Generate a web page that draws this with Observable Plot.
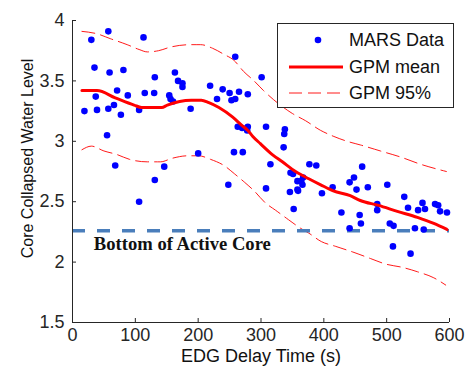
<!DOCTYPE html>
<html>
<head>
<meta charset="utf-8">
<script src="https://cdn.jsdelivr.net/npm/d3@7"></script>
<script src="https://cdn.jsdelivr.net/npm/@observablehq/plot@0.6"></script>
<style>
  body { margin: 0; background: #fff; }
  #wrap { position: relative; width: 468px; height: 369px; font-family: "Liberation Sans", Arial, sans-serif; }
  #legend { position: absolute; left: 277px; top: 23px; width: 177px; height: 85px; box-sizing: border-box;
            border: 1px solid #262626; background: #fff; }
  .row { position: absolute; left: 0; height: 26px; width: 100%; }
  .row svg { position: absolute; left: 10px; top: 0; }
  .row span { position: absolute; left: 71px; top: 2px; font-size: 18px; color: #111; line-height: 22px; white-space: nowrap; }
</style>
</head>
<body>
<div id="wrap"></div>
<script>
// ---- data ----
const marsTime = [57,30,113,35,59,81,131,163,168,175,175,71,88,115,130,154,156,160,37,19,39,57,66,77,106,188,55,
  259,301,219,239,250,265,279,230,253,259,263,270,278,279,308,338,337,336,
  68,131,146,106,200,257,271,315,248,308,347,351,367,358,364,366,377,388,346,358,359,397,352,
  461,414,441,448,452,470,501,428,457,459,485,485,528,534,550,557,561,577,582,585,596,505,511,545,559,441,510,538];
const marsLevel = [3.91,3.84,3.86,3.61,3.57,3.59,3.53,3.57,3.50,3.48,3.45,3.42,3.38,3.40,3.40,3.38,3.35,3.33,3.37,3.25,3.26,3.27,3.30,3.22,3.26,3.27,3.05,
  3.70,3.53,3.46,3.43,3.40,3.41,3.39,3.35,3.34,3.35,3.12,3.11,3.09,3.12,3.12,3.10,3.06,2.95,
  2.80,2.68,2.79,2.50,2.90,2.91,2.91,2.81,2.64,2.61,2.74,2.73,2.70,2.67,2.67,2.64,2.81,2.80,2.58,2.60,2.59,2.57,2.44,
  2.79,2.62,2.66,2.70,2.60,2.62,2.64,2.41,2.39,2.32,2.48,2.43,2.54,2.45,2.43,2.49,2.44,2.48,2.47,2.42,2.41,2.32,2.30,2.28,2.27,2.28,2.13,2.07];

const meanTime  = [15,39,68,98,110,142,151,189,205,217,233,255,270,279,287,299,318,334,355,376,395,415,442,458,487,517,549,575,596];
const meanLevel = [3.42,3.42,3.36,3.30,3.28,3.28,3.30,3.34,3.34,3.32,3.28,3.20,3.13,3.09,3.04,2.98,2.89,2.83,2.75,2.69,2.64,2.59,2.55,2.51,2.47,2.42,2.37,2.32,2.27];

const upperTime  = [15,39,60,87,106,119,137,156,188,204,223,241,257,272,289,304,350,371,395,416,437,458,490,522,554,595];
const upperLevel = [3.91,3.89,3.85,3.80,3.76,3.74,3.75,3.78,3.80,3.80,3.77,3.72,3.67,3.58,3.50,3.42,3.23,3.17,3.09,3.04,3.00,2.97,2.92,2.87,2.81,2.75];

const lowerTime  = [15,30,50,71,91,119,140,159,183,201,220,241,258,274,289,307,323,344,363,376,396,419,448,474,501,522,549,575,594];
const lowerLevel = [2.93,2.96,2.92,2.89,2.85,2.83,2.83,2.86,2.88,2.88,2.85,2.80,2.73,2.66,2.59,2.49,2.43,2.35,2.28,2.24,2.17,2.13,2.08,2.03,1.98,1.96,1.92,1.87,1.81];

const coreBottom = 2.26;
const coreLabel = "Bottom of Active Core";
const coreLabelAt = {x: 34, y: 2.15};

const xTicks = [0,100,200,300,400,500,600];
const yTicks = [1.5,2,2.5,3,3.5,4];
const xLabel = "EDG Delay Time (s)";
const yLabel = "Core Collapsed Water Level";
const legendLabels = ["MARS Data","GPM mean","GPM 95%"];

// ---- tables ----
const mars = marsTime.map((t,i) => ({t, v: marsLevel[i]}));
const mean = meanTime.map((t,i) => ({t, v: meanLevel[i]}));
const upper = upperTime.map((t,i) => ({t, v: upperLevel[i]}));
const lower = lowerTime.map((t,i) => ({t, v: lowerLevel[i]}));

const axisColor = "#262626";
const chart = Plot.plot({
  width: 468, height: 369,
  marginLeft: 72, marginRight: 19, marginTop: 20, marginBottom: 47,
  style: {fontFamily: "Liberation Sans, Arial, sans-serif", fontSize: "18px", background: "#fff", overflow: "visible"},
  x: {domain: [0, 600], label: null},
  y: {domain: [1.5, 4], label: null},
  marks: [
    Plot.line(upper, {x: "t", y: "v", stroke: "#ff0000", strokeWidth: 0.9, strokeDasharray: "13,6", curve: "monotone-x"}),
    Plot.line(lower, {x: "t", y: "v", stroke: "#ff0000", strokeWidth: 0.9, strokeDasharray: "13,6", curve: "monotone-x"}),
    Plot.ruleY([coreBottom], {x1: 0, x2: 600, stroke: "#4a7ebb", strokeWidth: 3.5, strokeDasharray: "13,12"}),
    Plot.dot(mars, {x: "t", y: "v", r: 3.3, fill: "#0000ff", stroke: null}),
    Plot.line(mean, {x: "t", y: "v", stroke: "#ff0000", strokeWidth: 3, curve: "monotone-x"}),
    Plot.text([coreLabel], {x: coreLabelAt.x, y: coreLabelAt.y, text: d => d, textAnchor: "start",
      fontFamily: "Liberation Serif, Times New Roman, serif", fontWeight: "bold", fontSize: 18, fill: "#111"}),
    // axes
    Plot.ruleX([0], {stroke: axisColor}),
    Plot.ruleY([1.5], {stroke: axisColor}),
    Plot.axisX(xTicks, {tickSize: -4, fill: "none", stroke: axisColor, label: null}),
    Plot.axisX(xTicks, {tickSize: 0, tickPadding: 6, fill: axisColor, fontSize: 18, label: null}),
    Plot.axisY(yTicks, {tickSize: -4, fill: "none", stroke: axisColor, label: null}),
    Plot.axisY(yTicks, {tickSize: 0, tickPadding: 8, fill: axisColor, fontSize: 18, tickFormat: d3.format("~g"), label: null}),
    Plot.text([xLabel], {frameAnchor: "bottom", dy: 39, text: d => d, fontSize: 18, fill: "#111"}),
    Plot.text([yLabel], {frameAnchor: "left", dx: -45, dy: -13, rotate: -90, textAnchor: "middle", text: d => d, fontSize: 16, fill: "#111"})
  ]
});
// stretch the annotation to the width it has in the reference
d3.select(chart).selectAll("text").filter(function () { return this.textContent === coreLabel; })
  .attr("textLength", 177).attr("lengthAdjust", "spacingAndGlyphs");

const wrap = document.getElementById("wrap");
wrap.appendChild(chart);

// legend (HTML overlay drawn from the legend label list)
const legend = document.createElement("div");
legend.id = "legend";
const swatches = [
  '<svg width="60" height="26"><circle cx="30" cy="13" r="3.3" fill="#0000ff"/></svg>',
  '<svg width="60" height="26"><line x1="1" x2="55" y1="13" y2="13" stroke="#ff0000" stroke-width="3"/></svg>',
  '<svg width="60" height="26"><line x1="1" x2="55" y1="13" y2="13" stroke="#ff0000" stroke-width="0.9" stroke-dasharray="13,6"/></svg>'
];
const rowTops = [3, 29.5, 56];
legendLabels.forEach((lab, i) => {
  const row = document.createElement("div");
  row.className = "row";
  row.style.top = rowTops[i] + "px";
  row.innerHTML = swatches[i] + "<span>" + lab + "</span>";
  legend.appendChild(row);
});
wrap.appendChild(legend);
</script>
</body>
</html>
